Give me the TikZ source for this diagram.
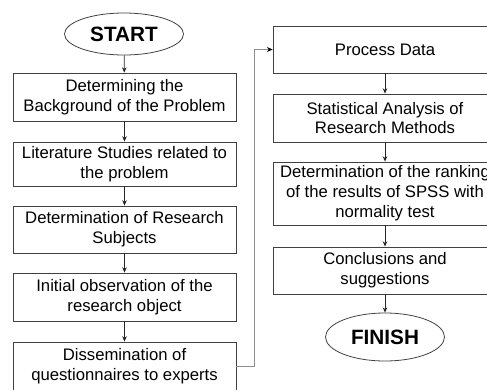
\documentclass[tikz,border=0pt]{standalone}
\usepackage{fontspec}
\setmainfont{Liberation Sans}
\usetikzlibrary{shapes.geometric,arrows.meta}

\tikzset{
  procbox/.style={draw=black!75, line width=0.5pt, rectangle, align=center,
    inner sep=0pt, minimum width=4.46cm, minimum height=#1,
    font=\fontsize{9.5}{11.3}\selectfont},
  termnode/.style={draw=black!75, line width=0.45pt, ellipse, inner sep=0pt,
    minimum width=2.38cm, minimum height=#1,
    font=\fontsize{11.8}{13}\selectfont\bfseries},
  arr/.style={-{Stealth[length=3pt,width=2.6pt]}, line width=0.45pt, black!85},
  backarr/.style={-{Stealth[length=3.2pt,width=2.8pt,color=black]}, line width=0.8pt, black!45}
}

\begin{document}
\begin{tikzpicture}[x=0.02cm,y=-0.02cm]
\useasboundingbox (0,0) rectangle (487,389);
\clip (0,0) rectangle (487,389);
% left column
\node[termnode=0.84cm] (start) at (124,34) {START};
\node[procbox=0.96cm] (b1) at (124.5,97) {Determining the\\Background of the Problem};
\node[procbox=0.88cm] (b2) at (124.5,164) {Literature Studies related to\\the problem};
\node[procbox=0.94cm] (b3) at (124.5,229.5) {Determination of Research\\Subjects};
\node[procbox=0.96cm] (b4) at (124.5,297) {Initial observation of the\\research object};
\node[procbox=0.98cm] (b5) at (124.5,366.5) {Dissemination of\\questionnaires to experts};
% right column
\node[procbox=0.94cm, minimum width=4.48cm] (r1) at (385,49.5) {Process Data};
\node[procbox=0.96cm, minimum width=4.48cm] (r2) at (385,118) {Statistical Analysis of\\Research Methods};
\node[procbox=1.26cm, minimum width=4.48cm] (r3) at (385,193.5) {Determination of the ranking\\of the results of SPSS with\\normality test};
\node[procbox=0.94cm, minimum width=4.48cm] (r4) at (385,270.5) {Conclusions and\\suggestions};
\node[termnode=0.96cm] (finish) at (385,337) {FINISH};
% arrows
\draw[arr] (start) -- (b1);
\draw[arr] (b1) -- (b2);
\draw[arr] (b2) -- (b3);
\draw[arr] (b3) -- (b4);
\draw[arr] (b4) -- (b5);
\draw[backarr] (b5.east) -- ++(18,0) coordinate (turn) |- (r1.west);
\draw[arr] (r1) -- (r2);
\draw[arr] (r2) -- (r3);
\draw[arr] (r3) -- (r4);
\draw[arr] (r4) -- (finish);
\end{tikzpicture}
\end{document}
